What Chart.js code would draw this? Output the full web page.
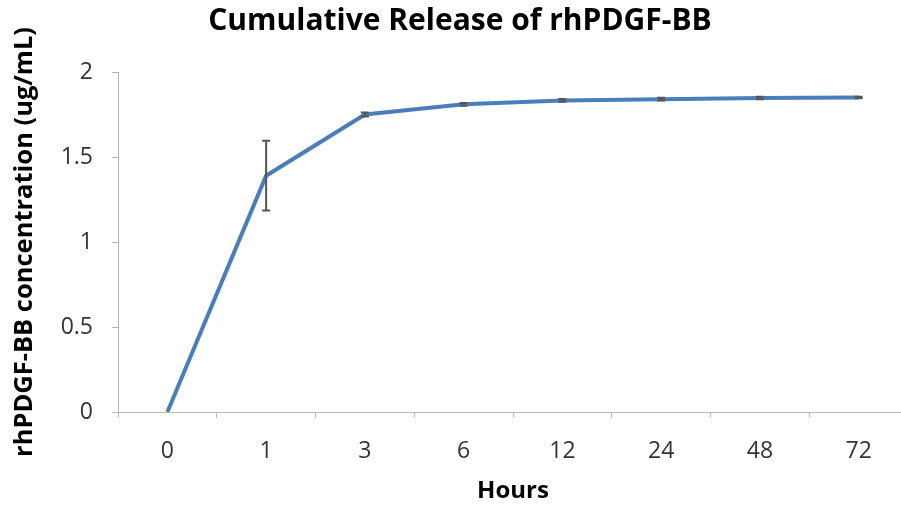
<!DOCTYPE html>
<html>
<head>
<meta charset="utf-8">
<script src="https://cdn.jsdelivr.net/npm/chart.js@4.4.1/dist/chart.umd.min.js"></script>
<style>
  html, body { margin: 0; padding: 0; background: #fff; overflow: hidden; }
  #wrap { position: relative; width: 908px; height: 506px; }
</style>
</head>
<body>
<div id="wrap"><canvas id="chart"></canvas></div>
<script>
const hours = ["0", "1", "3", "6", "12", "24", "48", "72"];
const release = [0, 1.39, 1.75, 1.81, 1.833, 1.84, 1.847, 1.85];
const errors = [0, 0.205, 0.012, 0.008, 0.008, 0.008, 0.008, 0.004];
const yTicks = [0, 0.5, 1, 1.5, 2];

const axisGray = "#b8b8b8";
const textGray = "#333333";
const fontFamily = "'Open Sans', Lato, sans-serif";

const errorBars = {
  id: "errorBars",
  afterDatasetsDraw(chart) {
    const { ctx, scales } = chart;
    const x = scales.x, y = scales.y;
    ctx.save();
    ctx.strokeStyle = "#555555";
    ctx.lineWidth = 2;
    release.forEach((v, i) => {
      const e = errors[i];
      if (!e) return;
      const px = x.getPixelForValue(i);
      const top = y.getPixelForValue(v + e);
      const bot = y.getPixelForValue(v - e);
      ctx.beginPath();
      ctx.moveTo(px, top); ctx.lineTo(px, bot);
      ctx.moveTo(px - 4, top); ctx.lineTo(px + 4, top);
      ctx.moveTo(px - 4, bot); ctx.lineTo(px + 4, bot);
      ctx.stroke();
    });
    ctx.restore();
  }
};

new Chart(document.getElementById("chart"), {
  type: "line",
  data: {
    labels: hours,
    datasets: [{
      data: release,
      borderColor: "#4a7ebb",
      borderWidth: 4,
      pointRadius: 0,
      tension: 0,
      fill: false
    }]
  },
  options: {
    responsive: true,
    maintainAspectRatio: false,
    animation: false,
    layout: { padding: { left: 12, right: 0, top: 0, bottom: 0 } },
    plugins: {
      legend: { display: false },
      tooltip: { enabled: false },
      title: {
        display: true,
        text: "Cumulative Release of rhPDGF-BB",
        color: "#000",
        font: { family: fontFamily, size: 30, weight: "bold", lineHeight: 1.2 },
        padding: { top: 3, bottom: 33 }
      }
    },
    scales: {
      x: {
        offset: true,
        grid: { offset: true, drawOnChartArea: false, color: axisGray, tickLength: 6 },
        border: { color: axisGray, width: 1 },
        ticks: { color: textGray, padding: 20, font: { family: fontFamily, size: 23 }, maxRotation: 0 },
        title: {
          display: true, text: "Hours", color: "#000",
          font: { family: fontFamily, size: 24, weight: "bold", lineHeight: 1.2 },
          padding: { top: 0, bottom: 0 }
        },
        afterFit(scale) { scale.height = 94; }
      },
      y: {
        min: 0, max: 2,
        afterBuildTicks(scale) { scale.ticks = yTicks.map(v => ({ value: v })); },
        grid: { drawOnChartArea: false, color: axisGray, tickLength: 6 },
        border: { color: axisGray, width: 1 },
        ticks: {
          color: textGray, padding: 19, font: { family: fontFamily, size: 23 },
          callback: v => String(v)
        },
        title: {
          display: true, text: "rhPDGF-BB concentration (ug/mL)", color: "#000",
          font: { family: fontFamily, size: 25.5, weight: "bold", lineHeight: 1.0 },
          padding: { top: 0, bottom: 0 }
        },
        afterFit(scale) { scale.width = 106; }
      }
    }
  },
  plugins: [errorBars]
});
</script>
</body>
</html>
